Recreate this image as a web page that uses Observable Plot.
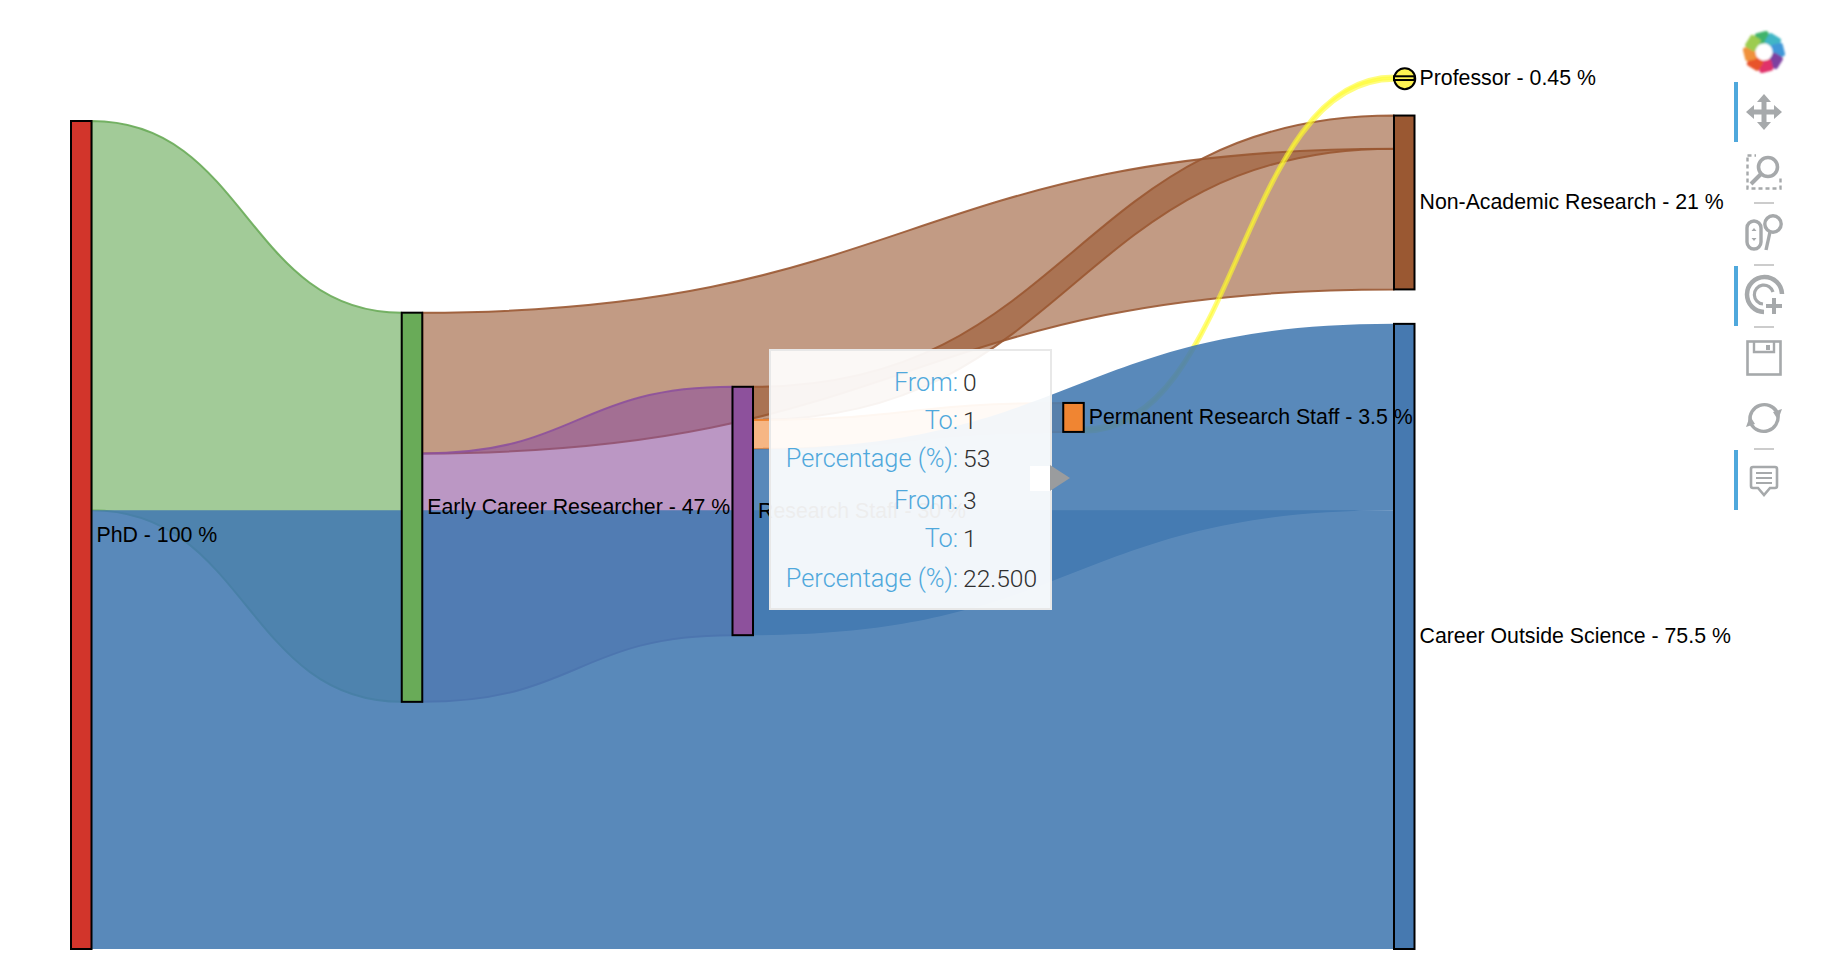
<!DOCTYPE html>
<html>
<head>
<meta charset="utf-8">
<script src="https://cdn.jsdelivr.net/npm/d3@7"></script>
<script src="https://cdn.jsdelivr.net/npm/@observablehq/plot@0.6"></script>
<style>
html,body{margin:0;padding:0;background:#fff;width:1830px;height:976px;overflow:hidden}
#wrap{position:relative;width:1830px;height:976px}
#wrap svg{position:absolute;left:0;top:0}
#tip{position:absolute;left:769px;top:349px;width:283px;height:261px;box-sizing:border-box;background:rgba(255,255,255,.93);border:2px solid #e8e8e8;font-family:Roboto,"Liberation Sans",sans-serif;font-weight:300;font-size:25.3px}
.row{position:absolute;left:0;width:100%;height:30px;line-height:30px}
.lab{position:absolute;right:92px;color:#4fa8dc;white-space:nowrap}
.val{position:absolute;left:192px;color:#2f2f2f;white-space:nowrap;font-size:24.6px}
#patch{position:absolute;left:1030px;top:466px;width:22px;height:25px;background:#fff}
#arrow{position:absolute;left:1050px;top:465px;width:0;height:0;border-left:20px solid #9a9c9e;border-top:13.5px solid transparent;border-bottom:13.5px solid transparent}
</style>
</head>
<body>
<div id="wrap"></div>
<script>
// Nodes: position in the flow and share of PhDs (%)
const nodeNames = ["PhD","Early Career Researcher","Research Staff","Permanent Research Staff","Professor","Non-Academic Research","Career Outside Science"];
const nodeColumns = [0,1,2,3,4,4,4];
const nodeValues = [100,47,30,3.5,0.45,21,75.5];
const nodeTops = [0,23.15,32.1,34.05,-5.4,-0.66,24.5];
const nodeColors = ["#d2352b","#69ab58","#8d519c","#f08532","#fff352","#9a5832","#4679b0"];

// Links, in drawing order
const linkFrom = [0,1,1,2,2,3,2,0];
const linkTo = [1,5,2,5,3,4,6,6];
const linkValues = [47,17,30,4,3.5,0.45,22.5,53];
const linkFromTops = [0,23.15,40.15,32.1,36.1,37.1,39.6,47];
const linkToTops = [23.15,3.34,32.1,-0.66,34.05,-5.4,24.5,47];
const linkOpacity = [0.62,0.6,0.6,0.6,0.6,0.6,0.88,0.88];
const linkColors = ["#69ab58","#9a5832","#8d519c","#9a5832","#f08532","#fffc2a","#4279b0","#4279b0"];
const linkEdgeWidths = [2,2,2,2,2,3.5,0,0];
const linkEdgeOpacity = [0.9,0.9,0.9,0.9,0.9,0.6,0,0];

// Tooltip
const tipLabels = ["From:","To:","Percentage (%):","From:","To:","Percentage (%):"];
const tipValues = ["0","1","53","3","1","22.500"];
const tipRows = [34,72,110,152,190,230];

const nodeWidth = 0.062;
const nodes = nodeNames.map((name,i)=>({name,col:nodeColumns[i],value:nodeValues[i],top:nodeTops[i],color:nodeColors[i],
  label:`${name} - ${nodeValues[i]} %`}));

const linkMarks = linkFrom.map((s,i)=>{
  const rows = [
    {x:nodeColumns[s]+nodeWidth,y1:linkFromTops[i],y2:linkFromTops[i]+linkValues[i]},
    {x:nodeColumns[linkTo[i]],y1:linkToTops[i],y2:linkToTops[i]+linkValues[i]}
  ];
  return Plot.area(rows,{x1:"x",y1:"y1",y2:"y2",curve:"bump-x",fill:linkColors[i],fillOpacity:linkOpacity[i],
    stroke:linkColors[i],strokeOpacity:linkEdgeOpacity[i],strokeWidth:linkEdgeWidths[i]});
});

const chart = Plot.plot({
  width:1830,height:976,margin:0,
  style:{background:"transparent",fontFamily:"'Liberation Sans',Arial,sans-serif",overflow:"visible"},
  x:{domain:[0,4],range:[71,1394],axis:null},
  y:{domain:[0,100],range:[121,949],axis:null},
  marks:[
    ...linkMarks,
    Plot.dot(nodes.filter(d=>d.value<1),{x:d=>d.col+nodeWidth/2,y:d=>d.top+d.value/2,r:10.5,fill:d=>d.color,stroke:"#000",strokeWidth:2}),
    Plot.rect(nodes,{x1:"col",x2:d=>d.col+nodeWidth,y1:"top",y2:d=>d.top+d.value,fill:d=>d.color,stroke:"#000",strokeWidth:2}),
    Plot.text(nodes,{x:d=>d.col+nodeWidth,y:d=>d.top+d.value/2,text:"label",textAnchor:"start",dx:4.5,dy:-0.7,fontSize:21.3,fill:"#000"})
  ]
});
const wrap = document.getElementById("wrap");
wrap.appendChild(chart);

// Tooltip overlay
const tip = document.createElement("div");
tip.id="tip";
tipLabels.forEach((l,i)=>{
  const r=document.createElement("div");r.className="row";r.style.top=(tipRows[i]-15-2)+"px";
  r.innerHTML=`<span class="lab">${l}</span><span class="val">${tipValues[i]}</span>`;
  tip.appendChild(r);
});
wrap.appendChild(tip);
const patch=document.createElement("div");patch.id="patch";wrap.appendChild(patch);
const arrow=document.createElement("div");arrow.id="arrow";wrap.appendChild(arrow);

// Toolbar overlay
const g="#a6a9ab";
const s=`fill="none" stroke="${g}" stroke-width="3.4"`;
const logoColors=["#3fb36a","#3fb6c6","#3f97d8","#7d3fa0","#e0336b","#e8522a","#f0913a","#9ccc50"];
const logo=logoColors.map((c,i)=>`<rect x="-5" y="-20" width="14" height="12" rx="2.5" fill="${c}" transform="rotate(${i*45-14})"/>`).join("");
const toolbar=`<svg width="1830" height="976" style="pointer-events:none">
<defs><filter id="b"><feGaussianBlur stdDeviation="0.9"/></filter></defs>
<g transform="translate(1764,52)" filter="url(#b)">${logo}<circle r="8.5" fill="#fff"/></g>
<g fill="#4fa8dc"><rect x="1734" y="82" width="4" height="60"/><rect x="1734" y="266" width="4" height="60"/><rect x="1734" y="450" width="4" height="60"/></g>
<g fill="#ccc"><rect x="1754" y="202" width="20" height="2"/><rect x="1754" y="264" width="20" height="2"/><rect x="1754" y="326" width="20" height="2"/><rect x="1754" y="448" width="20" height="2"/></g>
<g transform="translate(1764,112)" fill="${g}"><path d="M-2.5-10H-7L0-18 7-10H2.5V-2.5H10V-7L18 0 10 7V2.5H2.5V10H7L0 18-7 10H-2.5V2.5H-10V7L-18 0-10-7V-2.5H-2.5Z"/></g>
<g transform="translate(1764,172)"><rect x="-16.5" y="-16.5" width="33" height="33" fill="none" stroke="${g}" stroke-width="2.4" stroke-dasharray="4 3"/><rect x="-8" y="-20" width="26" height="26" fill="#fff"/><circle cx="4" cy="-5" r="9.5" fill="#fff" stroke="${g}" stroke-width="3.6"/><path d="M-3 2L-13 12" stroke="${g}" stroke-width="4"/></g>
<g transform="translate(1764,233)"><rect x="-17" y="-12" width="14" height="28" rx="7" ${s}/><path d="M-10-5l-2.5 3h5zM-10 8l-2.5-3h5z" fill="${g}"/><circle cx="9" cy="-9" r="8.2" ${s}/><path d="M6-1L2 17" ${s}/></g>
<g transform="translate(1764,296)"><path d="M18-2A17.5 17.5 0 1 0 0 16" fill="none" stroke="${g}" stroke-width="4.5"/><path d="M9-4A9.5 9.5 0 1 0-1 8" fill="none" stroke="${g}" stroke-width="3.2"/><path d="M10 2V18M2 10H18" stroke="${g}" stroke-width="4"/></g>
<g transform="translate(1764,358)"><rect x="-16.5" y="-16.5" width="33" height="33" fill="none" stroke="${g}" stroke-width="2.6"/><path d="M-10-16V-6H10V-16" fill="none" stroke="${g}" stroke-width="2.4"/><rect x="2" y="-13" width="4" height="5" fill="${g}"/></g>
<g transform="translate(1764,418)"><path d="M-14 3A14.5 14.5 0 0 1 13-6" ${s}/><path d="M14 -3A14.5 14.5 0 0 1 -13 6" ${s}/><path d="M18-9L9-6 14 2ZM-18 9L-9 6-14-2Z" fill="${g}"/></g>
<g transform="translate(1764,480)"><path d="M-11-13H11Q13-13 13-11V6Q13 8 11 8H6L0 15-6 8H-11Q-13 8-13 6V-11Q-13-13-11-13Z" fill="none" stroke="${g}" stroke-width="2.6"/><path d="M-8-7H8M-8-2H8M-8 3H8" stroke="${g}" stroke-width="2"/></g>
</svg>`;
const holder=document.createElement("div");holder.innerHTML=toolbar;wrap.appendChild(holder);
</script>
</body>
</html>
